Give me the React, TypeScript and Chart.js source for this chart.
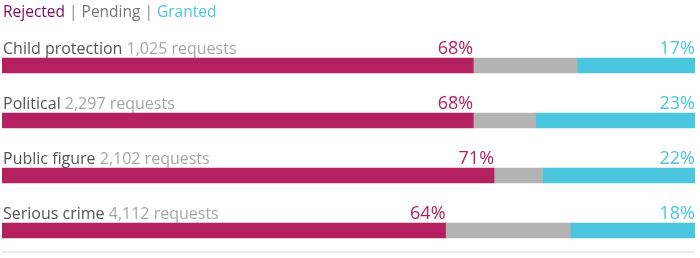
import React, { useEffect, useRef } from "react";
import { Chart, registerables } from "chart.js";

Chart.register(...registerables);

const categories = ["Child protection", "Political", "Public figure", "Serious crime"];
const requestCounts = ["1,025", "2,297", "2,102", "4,112"];
const rejected = [68, 68, 71, 64];
const pending = [15, 9, 7, 18];
const granted = [17, 23, 22, 18];

const seriesNames = ["Rejected", "Pending", "Granted"];
const barColors = ["#b5205f", "#b3b3b3", "#4bc6df"];
const legendColors = ["#7d0a62", "#767676", "#4bc6df"];
const FONT = '"Open Sans", sans-serif';

const labelPlugin = {
  id: "labelPlugin",
  afterDraw(chart: any) {
    const ctx = chart.ctx;
    const xs = chart.scales.x;
    const ys = chart.scales.y;
    const area = chart.chartArea;
    ctx.save();
    ctx.textBaseline = "alphabetic";

    // legend
    ctx.font = `15.5px ${FONT}`;
    ctx.textAlign = "left";
    let lx = 3;
    seriesNames.forEach((n, i) => {
      ctx.fillStyle = legendColors[i];
      ctx.fillText(n, lx, 17);
      lx += ctx.measureText(n).width;
      if (i < seriesNames.length - 1) {
        ctx.fillStyle = "#8a8a8a";
        const sep = " | ";
        ctx.fillText(sep, lx, 17);
        lx += ctx.measureText(sep).width;
      }
    });

    const half = 7.5;
    categories.forEach((cat, i) => {
      const yc = ys.getPixelForValue(i);
      const base = yc - half - 4;
      ctx.font = `16px ${FONT}`;
      ctx.textAlign = "left";
      ctx.fillStyle = "#555555";
      ctx.fillText(cat, 3, base);
      const w = ctx.measureText(cat + " ").width;
      ctx.fillStyle = "#a6a6a6";
      ctx.fillText(`${requestCounts[i]} requests`, 3 + w, base);

      ctx.font = `18px ${FONT}`;
      ctx.textAlign = "right";
      ctx.fillStyle = "#b5205f";
      ctx.fillText(`${rejected[i]}%`, xs.getPixelForValue(rejected[i]), base);
      ctx.fillStyle = "#4bc6df";
      ctx.fillText(
        `${granted[i]}%`,
        xs.getPixelForValue(rejected[i] + pending[i] + granted[i]),
        base
      );
    });

    // baseline rule
    ctx.strokeStyle = "#ececec";
    ctx.lineWidth = 2;
    ctx.beginPath();
    ctx.moveTo(area.left, area.bottom - 6);
    ctx.lineTo(area.right, area.bottom - 6);
    ctx.stroke();
    ctx.restore();
  },
};

export default function App() {
  const ref = useRef<HTMLCanvasElement | null>(null);
  useEffect(() => {
    document.body.style.margin = "0";
    if (!ref.current) return;
    const chart = new Chart(ref.current, {
      type: "bar",
      data: {
        labels: categories,
        datasets: [rejected, pending, granted].map((d, i) => ({
          label: seriesNames[i],
          data: d,
          backgroundColor: barColors[i],
          borderWidth: 0,
          barThickness: 15,
        })),
      },
      options: {
        indexAxis: "y",
        animation: false,
        responsive: false,
        maintainAspectRatio: false,
        layout: { padding: { top: 38, bottom: 0, left: 2, right: 5 } },
        scales: {
          x: { stacked: true, min: 0, max: 100, display: false },
          y: { stacked: true, display: false },
        },
        plugins: {
          legend: { display: false },
          tooltip: { enabled: false },
        },
      },
      plugins: [labelPlugin],
    });
    return () => chart.destroy();
  }, []);
  return (
    <div style={{ width: 700, height: 258 }}>
      <canvas ref={ref} width={700} height={258} style={{ display: "block" }} />
    </div>
  );
}
